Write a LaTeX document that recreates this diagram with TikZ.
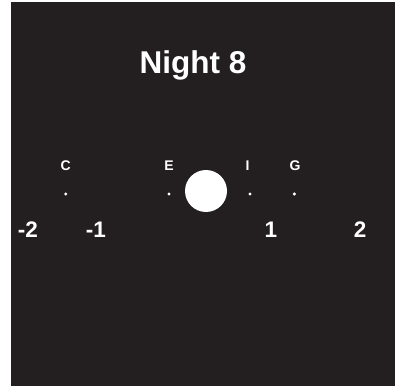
\documentclass[tikz,border=0pt]{standalone}
\usepackage{fontspec}
\setmainfont{Liberation Sans}
\usepackage{tikz}
\usetikzlibrary{
    positioning,
    calc
}
\definecolor{nightBg}{RGB}{35,31,32}
\tikzset{
  title/.style   = {text=white, font=\bfseries\fontsize{31.5}{31.5}\selectfont,
                    anchor=base, inner sep=0pt},
  star/.style    = {text=white, font=\bfseries\fontsize{14}{14}\selectfont,
                    anchor=base, inner sep=0pt},
  tick/.style    = {text=white, font=\bfseries\fontsize{22.5}{22.5}\selectfont,
                    anchor=base, inner sep=0pt},
  dot/.style     = {circle, fill=white, inner sep=0pt, minimum size=3.4pt},
  moon/.style    = {circle, fill=white, inner sep=0pt, minimum size=42pt}
}

\begin{document}
\begin{tikzpicture}[x=1pt, y=-1pt]
    \useasboundingbox (0,0) rectangle (395,387);
    \fill[nightBg] (11,2) rectangle (395,386);

    \node[title] (night) at (193,74) {Night 8};

    % moon and stars
    \node[moon] (M) at (206,191) {};
    \node[dot] (dC) at (65.7,194) {};
    \node[dot] (dE) at (169,194) {};
    \node[dot] (dI) at (250,194) {};
    \node[dot] (dG) at (294.3,194) {};

    \node[star] (C) at (65.7,171) {C};
    \node[star] (E) at (169,171) {E};
    \node[star] (I) at (247.5,171) {I};
    \node[star] (G) at (295,171) {G};

    % scale
    \node[tick] (m2) at (28,237) {-2};
    \node[tick] (m1) at (96,237) {-1};
    \node[tick] (p1) at (271,237) {1};
    \node[tick] (p2) at (360,237) {2};
\end{tikzpicture}
\end{document}
